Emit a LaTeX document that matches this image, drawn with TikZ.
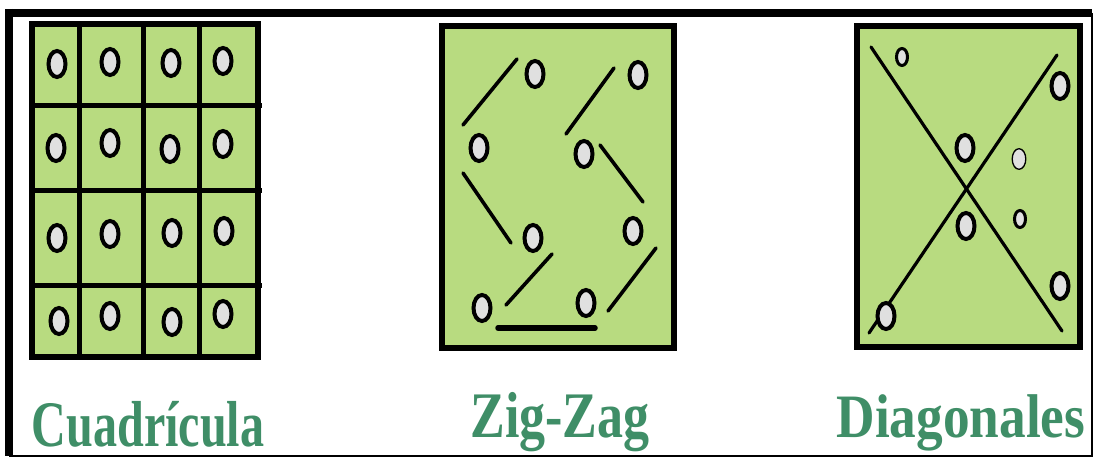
\documentclass[tikz,border=0pt]{standalone}
\usepackage{fontspec}
\setmainfont{Liberation Serif}
\begin{document}
\begin{tikzpicture}[x=1pt,y=-1pt,
  panel/.style={fill=panelgreen,draw=black,line width=5.5pt},
  gridline/.style={draw=black,line width=5pt},
  stroke/.style={draw=black,line width=3.6pt,line cap=round},
  hole/.style={draw=black,fill=holegrey,line width=4pt},
  smallhole/.style={draw=black,fill=holegrey,line width=3pt},
  thinhole/.style={draw=black,fill=holegrey,line width=1.3pt},
  caption/.style={text=labelgreen,font=\fontsize{65}{65}\selectfont\bfseries,inner sep=0pt,anchor=base}]
\definecolor{panelgreen}{HTML}{B8DB80}
\definecolor{holegrey}{HTML}{E0E0E0}
\definecolor{labelgreen}{HTML}{3F8E67}
\useasboundingbox (0,0) rectangle (1095,460);
\fill[white] (0,0) rectangle (1095,460);
% outer frame
\draw[line width=2pt] (1092,13) -- (1092,456) -- (9,456);
\draw[line width=8pt] (5,13) -- (1092,13);
\draw[line width=8pt] (9,9) -- (9,456);

% ---------- Panel 1: Cuadricula ----------
\draw[panel] (32,24) rectangle (258,357);
\foreach \x in {79,143,199} \draw[gridline] (\x,24) -- (\x,357);
\foreach \y in {105,190,285} \draw[gridline] (32,\y) -- (262,\y);
\foreach \x/\y in {57/64,110/62,171/63,223/61,
                   56/148,110/143,170/149,223/144,
                   57/238,110/234,172/233,224/231,
                   59/321,110/316,172/322,223/314}
  \draw[hole] (\x,\y) ellipse [x radius=8.5, y radius=13];

% ---------- Panel 2: Zig-Zag ----------
\draw[panel] (442,26) rectangle (674,348);
\coordinate (z1a) at (463,125); \coordinate (z1b) at (517,59);
\coordinate (z2a) at (566,134); \coordinate (z2b) at (614,68);
\coordinate (z3a) at (463,173); \coordinate (z3b) at (511,243);
\coordinate (z4a) at (600,145); \coordinate (z4b) at (643,202);
\coordinate (z5a) at (506,305); \coordinate (z5b) at (552,254);
\coordinate (z6a) at (608,311); \coordinate (z6b) at (656,248);
\coordinate (z7a) at (498,328); \coordinate (z7b) at (595,328);
\draw[stroke] (z1a) -- (z1b);
\draw[stroke] (z2a) -- (z2b);
\draw[stroke] (z3a) -- (z3b);
\draw[stroke] (z4a) -- (z4b);
\draw[stroke] (z5a) -- (z5b);
\draw[stroke] (z6a) -- (z6b);
\draw[stroke,line width=5.5pt] (z7a) -- (z7b);
\foreach \x/\y in {535/74,638/75,479/148,584/154,533/238,633/231,482/308,586/303}
  \draw[hole] (\x,\y) ellipse [x radius=8.5, y radius=13];

% ---------- Panel 3: Diagonales ----------
\draw[panel] (857,26) rectangle (1080,347);
\coordinate (d1a) at (871,47); \coordinate (d1b) at (1062,331);
\coordinate (d2a) at (1057,55); \coordinate (d2b) at (869,333);
\draw[stroke,line width=3.2pt] (d1a) -- (d1b);
\draw[stroke,line width=3.2pt] (d2a) -- (d2b);
\foreach \x/\y in {1060/86,965/148,966/226,1060/286,886/316}
  \draw[hole] (\x,\y) ellipse [x radius=8.5, y radius=13];
\foreach \x/\y in {902/57,1020/219}
  \draw[smallhole] (\x,\y) ellipse [x radius=5.5, y radius=8.5];
\draw[thinhole] (1019,159) ellipse [x radius=6.8, y radius=10.3];

% ---------- Labels ----------
\node[caption] (t1) at (148,446) {\scalebox{0.74}[1.0]{Cuadrícula}};
\node[caption] (t2) at (560,437) {\scalebox{0.80}[1.0]{Zig-Zag}};
\node[caption] (t3) at (961,437) {\scalebox{0.82}[0.95]{Diagonales}};
\end{tikzpicture}
\end{document}
